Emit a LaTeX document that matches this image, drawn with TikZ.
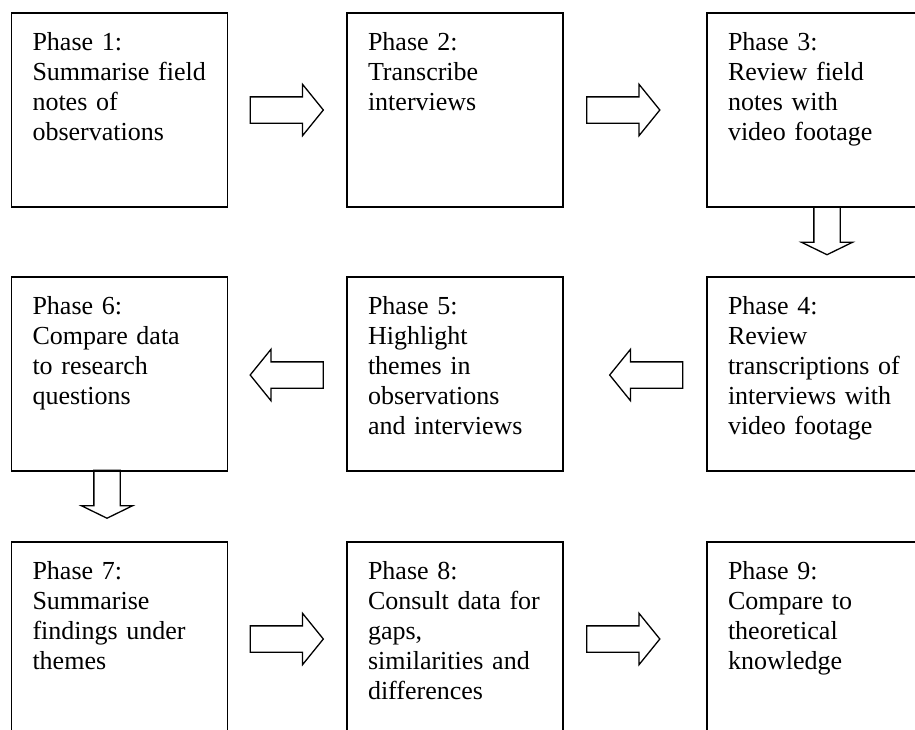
\documentclass[tikz,border=0pt]{standalone}
\usepackage{fontspec}
\setmainfont{Liberation Serif}
\usetikzlibrary{shapes.arrows}

\begin{document}
\begin{tikzpicture}[x=1pt, y=-1pt,
    phase/.style={rectangle, draw=black, line width=1.3pt, minimum width=216pt, minimum height=194pt, text width=174pt, inner xsep=21pt, inner ysep=16pt, align=left, font=\fontsize{26}{30}\selectfont, execute at begin node={\vbox to 162pt\bgroup\noindent\strut}, execute at end node={\vfill\egroup}},
    blockarrow/.style={single arrow, draw=black, line width=1.3pt, inner xsep=0pt, inner ysep=12.5pt, minimum height=73pt, single arrow head extend=12.5pt, single arrow tip angle=102},
    downarrow/.style={blockarrow, rotate=-90, minimum height=48pt, single arrow tip angle=128}
]

\useasboundingbox[fill=white] (0,0) rectangle (915,729);

% Row 1
\node[phase] (p1) at (119.5, 110) {Phase 1:\\Summarise field\\notes of\\observations};
\node[phase] (p2) at (455, 110) {Phase 2:\\Transcribe\\interviews};
\node[phase] (p3) at (815, 110) {Phase 3:\\Review field\\notes with\\video footage};

% Row 2
\node[phase] (p4) at (815, 374) {Phase 4:\\Review\\transcriptions of\\interviews with\\video footage};
\node[phase] (p5) at (455, 374) {Phase 5:\\Highlight\\themes in\\observations\\and interviews};
\node[phase] (p6) at (119.5, 374) {Phase 6:\\Compare data\\to research\\questions};

% Row 3
\node[phase] (p7) at (119.5, 639) {Phase 7:\\Summarise\\findings under\\themes};
\node[phase] (p8) at (455, 639) {Phase 8:\\Consult data for\\gaps,\\similarities and\\differences};
\node[phase] (p9) at (815, 639) {Phase 9:\\Compare to\\theoretical\\knowledge};

% Block arrows
\node[blockarrow] (a12) at (281.5, 110) {};
\node[blockarrow] (a23) at (618, 110) {};
\node[downarrow] (a34) at (827, 227.5) {};
\node[blockarrow, rotate=180] (a45) at (651.5, 375) {};
\node[blockarrow, rotate=180] (a56) at (292, 375) {};
\node[downarrow] (a67) at (107, 491) {};
\node[blockarrow] (a78) at (281.5, 639) {};
\node[blockarrow] (a89) at (618, 639) {};

\end{tikzpicture}
\end{document}
